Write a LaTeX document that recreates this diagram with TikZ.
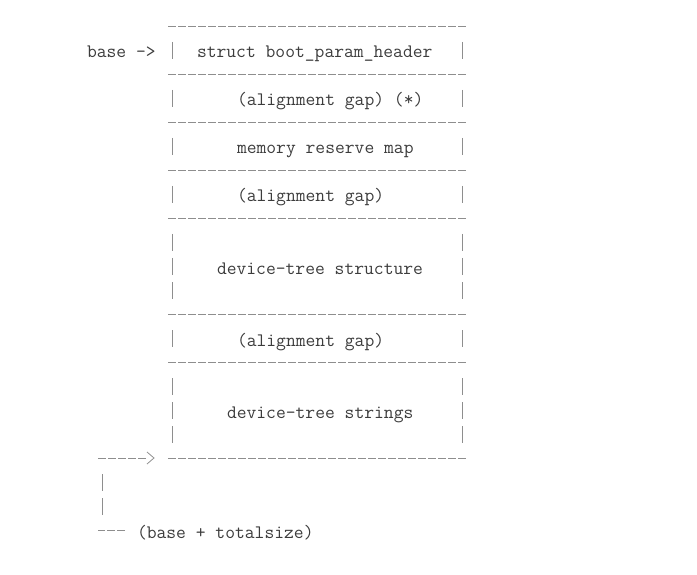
\documentclass[tikz,border=0pt]{standalone}
\usetikzlibrary{calc}
\definecolor{txt}{HTML}{3C3C3C}
\definecolor{rulec}{HTML}{8E8E8E}
\tikzset{
  lbl/.style={anchor=base west, inner sep=0pt, outer sep=0pt, text=txt,
    font=\ttfamily\fontsize{19.05}{24}\selectfont},
  hrule/.style={draw=rulec, line width=0.8pt, dash pattern=on 8pt off 2pt},
  vbar/.style={draw=rulec, line width=0.8pt},
}
\begin{document}
\begin{tikzpicture}[x=1pt,y=-1pt]
\useasboundingbox (0,0) rectangle (697,575);
% text lines: x = 37+10c, baseline = 27+24r+7
\node[lbl] (base)   at (87,58)  {base ->};
\node[lbl] (hdr)    at (197,58) {struct boot\_param\_header};
\node[lbl] (gap1)   at (237,106) {(alignment gap) (*)};
\node[lbl] (mem)    at (237,154) {memory reserve map};
\node[lbl] (gap2)   at (237,202) {(alignment gap)};
\node[lbl] (struct) at (217,274) {device-tree structure};
\node[lbl] (gap3)   at (237,346) {(alignment gap)};
\node[lbl] (strs)   at (227,418) {device-tree strings};
\node[lbl] (total)  at (137,538) {(base + totalsize)};
% horizontal separators
\foreach \r in {0,2,4,6,8,12,14,18}{
  \draw[hrule] (168,{27+24*\r-1}) -- (466,{27+24*\r-1});
}
% vertical bars
\foreach \r in {1,3,5,7,9,10,11,13,15,16,17}{
  \draw[vbar] (172,{27+24*\r-9}) -- (172,{27+24*\r+8});
  \draw[vbar] (462,{27+24*\r-9}) -- (462,{27+24*\r+8});
}
% bottom-left connector
\coordinate (c1) at (125,530);
\coordinate (c2) at (98,530);
\coordinate (c3) at (102,474);
\coordinate (c4) at (98,458);
\coordinate (c5) at (147,458);
\draw[hrule] (c1) -- (c2);
\draw[vbar] (102,498) -- (102,515);
\draw[vbar] (102,474) -- (102,491);
\draw[hrule] (c4) -- (c5);
\draw[vbar] ($(c5)+(0,-6)$) -- ($(c5)+(7,0)$) -- ($(c5)+(0,6)$);
\end{tikzpicture}
\end{document}
